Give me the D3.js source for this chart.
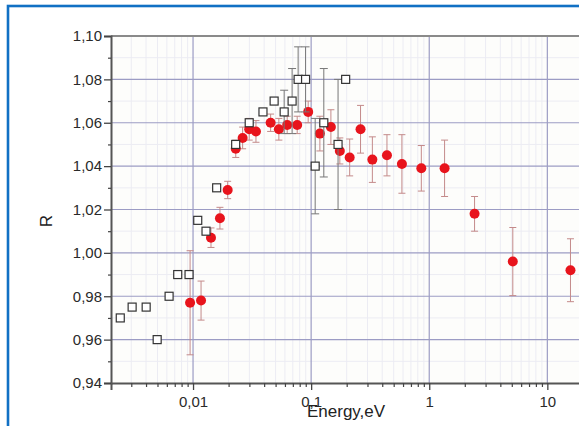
<!DOCTYPE html>
<html>
<head>
<meta charset="utf-8">
<script src="https://cdn.jsdelivr.net/npm/d3@7"></script>
<style>
  html, body { margin: 0; padding: 0; background: #ffffff; overflow: hidden; }
  svg { display: block; }
  text { font-family: "Liberation Sans", Arial, sans-serif; }
</style>
</head>
<body>
<svg id="chart" width="579" height="426"></svg>
<script>
// ---- data ----
const squareE   = [0.00242, 0.00305, 0.00401, 0.00497, 0.00627, 0.00742, 0.00925, 0.01096, 0.01288, 0.01585, 0.02296, 0.0299, 0.0391, 0.0486, 0.0591, 0.069, 0.0776, 0.0897, 0.1082, 0.128, 0.169, 0.196];
const squareR   = [0.970, 0.975, 0.975, 0.960, 0.980, 0.990, 0.990, 1.015, 1.010, 1.030, 1.050, 1.060, 1.065, 1.070, 1.065, 1.070, 1.080, 1.080, 1.040, 1.060, 1.050, 1.080];
const squareErr = [0, 0, 0, 0, 0, 0, 0, 0, 0, 0, 0, 0, 0, 0, 0.010, 0.015, 0.015, 0.015, 0.022, 0.025, 0.030, 0];

const circE   = [0.00944, 0.01169, 0.01419, 0.0169, 0.01964, 0.0230, 0.0263, 0.0299, 0.0341, 0.0454, 0.0533, 0.0627, 0.0762, 0.0944, 0.1186, 0.147, 0.175, 0.212, 0.262, 0.330, 0.4385, 0.587, 0.857, 1.349, 2.42, 5.10, 15.7];
const circR   = [0.977, 0.978, 1.007, 1.016, 1.029, 1.048, 1.053, 1.057, 1.056, 1.060, 1.057, 1.059, 1.059, 1.065, 1.055, 1.058, 1.047, 1.044, 1.057, 1.043, 1.045, 1.041, 1.039, 1.039, 1.018, 0.996, 0.992];
const circErr = [0.024, 0.009, 0.0045, 0.005, 0.004, 0.004, 0.005, 0.005, 0.005, 0.004, 0.005, 0.004, 0.004, 0.005, 0.008, 0.008, 0.006, 0.0085, 0.011, 0.0105, 0.0095, 0.0135, 0.0105, 0.013, 0.008, 0.0157, 0.0145];

const xTickValues = [0.01, 0.1, 1, 10];
const xTickLabels = ["0,01", "0,1", "1", "10"];
const yTickValues = [0.94, 0.96, 0.98, 1.00, 1.02, 1.04, 1.06, 1.08, 1.10];
const yTickLabels = ["0,94", "0,96", "0,98", "1,00", "1,02", "1,04", "1,06", "1,08", "1,10"];
const xTitle = "Energy,eV";
const yTitle = "R";

(function () {
// ---- layout ----
const svg = d3.select("#chart");
const pLeft = 111, pTop = 36, pBottom = 383;
const decade = 118.1;
const xMin = 0.00202, xMax = 60;
const pRight = pLeft + (Math.log10(xMax) - Math.log10(xMin)) * decade;

const x = d3.scaleLog().domain([xMin, xMax]).range([pLeft, pRight]);
const y = d3.scaleLinear().domain([0.94, 1.10]).range([pBottom, pTop]);

// outer blue frame
svg.append("rect").attr("x", 8).attr("y", 6).attr("width", 700).attr("height", 600)
  .attr("fill", "#ffffff").attr("stroke", "#1170c4").attr("stroke-width", 2.6);

// plot background
svg.append("rect").attr("x", pLeft).attr("y", pTop).attr("width", pRight - pLeft).attr("height", pBottom - pTop)
  .attr("fill", "#fdfdfb");

// minor grid
const xMinor = [];
for (let e = -3; e <= 1; e++) for (let m = 2; m <= 9; m++) {
  const v = m * Math.pow(10, e);
  if (v > xMin && v < xMax) xMinor.push(v);
}
const yMinor = d3.range(0.95, 1.10, 0.02);
const grid = svg.append("g");
grid.selectAll(".xm").data(xMinor).join("line")
  .attr("x1", d => x(d)).attr("x2", d => x(d)).attr("y1", pTop).attr("y2", pBottom)
  .attr("stroke", "#ececf3").attr("stroke-width", 1);
grid.selectAll(".ym").data(yMinor).join("line")
  .attr("x1", pLeft).attr("x2", pRight).attr("y1", d => y(d)).attr("y2", d => y(d))
  .attr("stroke", "#ececf3").attr("stroke-width", 1);
// major grid
grid.selectAll(".xM").data(xTickValues).join("line")
  .attr("x1", d => x(d)).attr("x2", d => x(d)).attr("y1", pTop).attr("y2", pBottom)
  .attr("stroke", "#9c9cc4").attr("stroke-width", 1.2);
grid.selectAll(".yM").data(yTickValues.slice(1, -1)).join("line")
  .attr("x1", pLeft).attr("x2", pRight).attr("y1", d => y(d)).attr("y2", d => y(d))
  .attr("stroke", "#9c9cc4").attr("stroke-width", 1.2);

// top border of plot
svg.append("line").attr("x1", pLeft).attr("x2", pRight).attr("y1", pTop).attr("y2", pTop)
  .attr("stroke", "#8a8a8a").attr("stroke-width", 2);

// axes
const xAxis = d3.axisBottom(x).tickValues(xTickValues).tickFormat((d, i) => xTickLabels[i]).tickSize(7).tickPadding(6);
const gx = svg.append("g").attr("transform", `translate(0,${pBottom})`).call(xAxis);
gx.select(".domain").attr("stroke", "#555").attr("stroke-width", 2);
gx.selectAll(".tick line").attr("stroke", "#444").attr("stroke-width", 1.3);
gx.selectAll("text").attr("font-size", 15).attr("fill", "#2a2a2a");
const xAxisMinor = d3.axisBottom(x).tickValues(xMinor).tickFormat("").tickSize(4);
const gxm = svg.append("g").attr("transform", `translate(0,${pBottom})`).call(xAxisMinor);
gxm.select(".domain").remove();
gxm.selectAll(".tick line").attr("stroke", "#444").attr("stroke-width", 1.2);

const yAxis = d3.axisLeft(y).tickValues(yTickValues).tickFormat((d, i) => yTickLabels[i]).tickSize(7).tickPadding(2);
const gy = svg.append("g").attr("transform", `translate(${pLeft},0)`).call(yAxis);
gy.select(".domain").attr("stroke", "#555").attr("stroke-width", 2);
gy.selectAll(".tick line").attr("stroke", "#444").attr("stroke-width", 1.3);
gy.selectAll("text").attr("font-size", 15).attr("fill", "#2a2a2a");
const yAxisMinor = d3.axisLeft(y).tickValues(yMinor).tickFormat("").tickSize(3);
const gym = svg.append("g").attr("transform", `translate(${pLeft},0)`).call(yAxisMinor);
gym.select(".domain").remove();
gym.selectAll(".tick line").attr("stroke", "#444").attr("stroke-width", 1.2);

// titles
svg.append("text").attr("x", 307).attr("y", 417).attr("font-size", 17).attr("fill", "#222").text(xTitle);
svg.append("text").attr("transform", "translate(52,221) rotate(-90)").attr("text-anchor", "middle")
  .attr("font-size", 17).attr("fill", "#222").text(yTitle);

// clip
svg.append("clipPath").attr("id", "clip").append("rect")
  .attr("x", pLeft).attr("y", pTop).attr("width", pRight - pLeft).attr("height", pBottom - pTop);
const plot = svg.append("g").attr("clip-path", "url(#clip)");

const circ = circE.map((e, i) => ({ e, r: circR[i], err: circErr[i] }));
const sq = squareE.map((e, i) => ({ e, r: squareR[i], err: squareErr[i] }));

function errorBars(g, data, color, cap, width) {
  const d2 = data.filter(d => d.err > 0);
  g.selectAll(null).data(d2).join("line")
    .attr("x1", d => x(d.e)).attr("x2", d => x(d.e))
    .attr("y1", d => y(d.r - d.err)).attr("y2", d => y(d.r + d.err))
    .attr("stroke", color).attr("stroke-width", width);
  [1, -1].forEach(s => {
    g.selectAll(null).data(d2).join("line")
      .attr("x1", d => x(d.e) - cap).attr("x2", d => x(d.e) + cap)
      .attr("y1", d => y(d.r + s * d.err)).attr("y2", d => y(d.r + s * d.err))
      .attr("stroke", color).attr("stroke-width", width);
  });
}

errorBars(plot.append("g"), circ, "#c48a8a", 3.5, 1);
plot.append("g").selectAll("circle").data(circ).join("circle")
  .attr("cx", d => x(d.e)).attr("cy", d => y(d.r)).attr("r", 5)
  .attr("fill", "#e8141c");

errorBars(plot.append("g"), sq, "#777777", 4, 1);
plot.append("g").selectAll("rect").data(sq).join("rect")
  .attr("x", d => x(d.e) - 4).attr("y", d => y(d.r) - 4).attr("width", 8).attr("height", 8)
  .attr("fill", "#ffffff").attr("stroke", "#333").attr("stroke-width", 1.2);
})();
</script>
</body>
</html>
